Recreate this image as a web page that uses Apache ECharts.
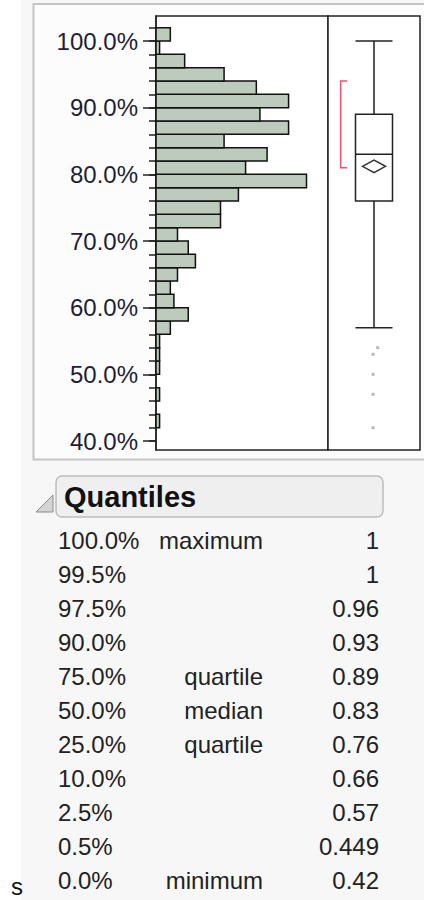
<!DOCTYPE html>
<html lang="en">
    <head>
        <meta charset="UTF-8" />
        <title>Distribution - histogram, box plot and quantiles</title>
        <script src="https://cdn.jsdelivr.net/npm/echarts@6/dist/echarts.min.js"></script>
        <style>
            html, body { margin: 0; padding: 0; background: #fff; }
            #chart { width: 424px; height: 900px; }
        </style>
    </head>
    <body>
        <div id="chart"></div>
        <script>
            // histogram bins (lower edge, percent) and counts
            var binStarts = [42, 44, 46, 48, 50, 52, 54, 56, 58, 60, 62, 64, 66, 68, 70, 72, 74, 76, 78, 80, 82, 84, 86, 88, 90, 92, 94, 96, 98, 100];
            var binCounts = [1, 0, 1, 0, 1, 1, 1, 4, 9, 5, 4, 6, 11, 9, 6, 18, 18, 23, 42, 25, 31, 19, 37, 29, 37, 28, 19, 8, 1, 4];
            var binWidth = 2;

            // axis ticks
            var majorTicks = [40, 50, 60, 70, 80, 90, 100];
            var minorTicks = [40, 42, 44, 46, 48, 50, 52, 54, 56, 58, 60, 62, 64, 66, 68, 70, 72, 74, 76, 78, 80, 82, 84, 86, 88, 90, 92, 94, 96, 98, 100, 102];

            // box plot: lower whisker, Q1, median, Q3, upper whisker
            var boxStats = [57, 76, 83, 89, 100];
            var meanDiamond = [80.25, 81.2, 82.15]; // lower CI, mean, upper CI
            var shortestHalf = [81, 94];
            var outlierValues = [54, 53, 50, 47, 42];
            var outlierJitter = [0.08, -0.02, -0.02, -0.02, -0.02];

            // quantiles table
            var quantileLevels = ['100.0%', '99.5%', '97.5%', '90.0%', '75.0%', '50.0%', '25.0%', '10.0%', '2.5%', '0.5%', '0.0%'];
            var quantileNames = ['maximum', '', '', '', 'quartile', 'median', 'quartile', '', '', '', 'minimum'];
            var quantileValues = ['1', '1', '0.96', '0.93', '0.89', '0.83', '0.76', '0.66', '0.57', '0.449', '0.42'];

            var font = '"Liberation Sans", Arial, sans-serif';
            var ink = '#222';
            var yMin = 38.65, yMax = 103.75;

            var histData = binStarts.map(function (b, i) {
                return [b, b + binWidth, binCounts[i]];
            });

            var graphics = [
                { type: 'rect', z: -10, shape: { x: 21, y: 0, width: 403, height: 900 }, style: { fill: '#f7f7f7' } },
                { type: 'rect', z: -9, shape: { x: 33.5, y: 4, width: 400, height: 455.5 }, style: { fill: '#fcfcfc', stroke: '#c4c4c4', lineWidth: 2 } },
                { type: 'polygon', shape: { points: [[36, 512], [53, 512], [53, 495]] }, style: { fill: '#d4d4d4', stroke: '#8a8a8a', lineWidth: 1 } },
                { type: 'rect', shape: { x: 56, y: 476, width: 327, height: 41, r: 6 }, style: { fill: '#efefef', stroke: '#bdbdbd', lineWidth: 1.5 } },
                { type: 'text', x: 64, y: 497, style: { text: 'Quantiles', font: 'bold 29px ' + font, fill: '#111', verticalAlign: 'middle' } },
                { type: 'text', x: 11, y: 898, style: { text: 's', font: '24px ' + font, fill: '#111', verticalAlign: 'bottom' } }
            ];

            quantileLevels.forEach(function (lvl, i) {
                var y = 540 + i * 34;
                graphics.push({ type: 'text', x: 58, y: y, style: { text: lvl, font: '24px ' + font, fill: ink, verticalAlign: 'middle' } });
                if (quantileNames[i]) {
                    graphics.push({ type: 'text', x: 263, y: y, style: { text: quantileNames[i], font: '24px ' + font, fill: ink, align: 'right', verticalAlign: 'middle' } });
                }
                graphics.push({ type: 'text', x: 379, y: y, style: { text: quantileValues[i], font: '24px ' + font, fill: ink, align: 'right', verticalAlign: 'middle' } });
            });

            var myChart = echarts.init(document.getElementById('chart'), null, { renderer: 'svg' });

            var option = {
                animation: false,
                backgroundColor: '#fff',
                graphic: graphics,
                grid: [
                    { left: 156, top: 16, width: 172, height: 434, show: true, backgroundColor: '#fff', borderColor: ink, borderWidth: 1.5 },
                    { left: 328, top: 16, width: 92, height: 434, show: true, backgroundColor: '#fff', borderColor: ink, borderWidth: 1.5 }
                ],
                xAxis: [
                    { type: 'value', gridIndex: 0, min: 0, max: 48, show: false },
                    { type: 'category', gridIndex: 1, data: ['all'], show: false },
                    { type: 'value', gridIndex: 1, min: -1, max: 1, show: false }
                ],
                yAxis: [
                    {
                        type: 'value', gridIndex: 0, min: yMin, max: yMax, position: 'left',
                        axisLine: { show: true, lineStyle: { color: ink, width: 1.5 } },
                        axisTick: { show: true, length: 13, customValues: majorTicks, lineStyle: { color: ink, width: 1.5 } },
                        axisLabel: {
                            customValues: majorTicks, margin: 18, fontSize: 24, fontFamily: font, color: '#1e1e34',
                            formatter: function (v) { return v.toFixed(1) + '%'; }
                        },
                        splitLine: { show: false }
                    },
                    {
                        type: 'value', gridIndex: 0, min: yMin, max: yMax, position: 'left', offset: 0,
                        axisLine: { show: false },
                        axisTick: { show: true, length: 7, customValues: minorTicks, lineStyle: { color: ink, width: 1.5 } },
                        axisLabel: { show: false },
                        splitLine: { show: false }
                    },
                    { type: 'value', gridIndex: 1, min: yMin, max: yMax, show: false, splitLine: { show: false } }
                ],
                series: [
                    {
                        name: 'histogram',
                        type: 'custom',
                        xAxisIndex: 0,
                        yAxisIndex: 0,
                        data: histData,
                        renderItem: function (params, api) {
                            var count = api.value(2);
                            if (!count) return null;
                            var p1 = api.coord([0, api.value(1)]);
                            var p2 = api.coord([count, api.value(0)]);
                            return {
                                type: 'rect',
                                shape: { x: p1[0], y: p1[1], width: p2[0] - p1[0], height: p2[1] - p1[1] },
                                style: { fill: '#bccbbb', stroke: '#111', lineWidth: 1.5 }
                            };
                        }
                    },
                    {
                        name: 'box',
                        type: 'boxplot',
                        xAxisIndex: 1,
                        yAxisIndex: 2,
                        z: 2,
                        boxWidth: [37, 37],
                        data: [boxStats],
                        itemStyle: { color: '#fff', borderColor: ink, borderWidth: 1.5 }
                    },
                    {
                        name: 'mean diamond',
                        type: 'custom',
                        xAxisIndex: 2,
                        yAxisIndex: 2,
                        z: 10,
                        data: [[0].concat(meanDiamond)],
                        renderItem: function (params, api) {
                            var lo = api.coord([api.value(0), api.value(1)]);
                            var mid = api.coord([api.value(0), api.value(2)]);
                            var hi = api.coord([api.value(0), api.value(3)]);
                            var hw = 11.5;
                            return {
                                type: 'polygon',
                                z2: 10,
                                shape: { points: [[mid[0] - hw, mid[1]], [hi[0], hi[1]], [mid[0] + hw, mid[1]], [lo[0], lo[1]]] },
                                style: { fill: 'rgba(255,255,255,0)', stroke: '#333', lineWidth: 1.5 }
                            };
                        }
                    },
                    {
                        name: 'shortest half',
                        type: 'custom',
                        xAxisIndex: 2,
                        yAxisIndex: 2,
                        data: [[-0.725].concat(shortestHalf)],
                        renderItem: function (params, api) {
                            var a = api.coord([api.value(0), api.value(1)]);
                            var b = api.coord([api.value(0), api.value(2)]);
                            return {
                                type: 'polyline',
                                shape: { points: [[a[0] + 6.5, a[1]], [a[0], a[1]], [b[0], b[1]], [b[0] + 6.5, b[1]]] },
                                style: { fill: 'none', stroke: '#f0506e', lineWidth: 1.5 }
                            };
                        }
                    },
                    {
                        name: 'outliers',
                        type: 'scatter',
                        xAxisIndex: 2,
                        yAxisIndex: 2,
                        symbol: 'rect',
                        symbolSize: 3,
                        itemStyle: { color: '#a8a8a8' },
                        data: outlierValues.map(function (v, i) { return [outlierJitter[i], v]; })
                    }
                ]
            };

            myChart.setOption(option);
        </script>
    </body>
</html>
